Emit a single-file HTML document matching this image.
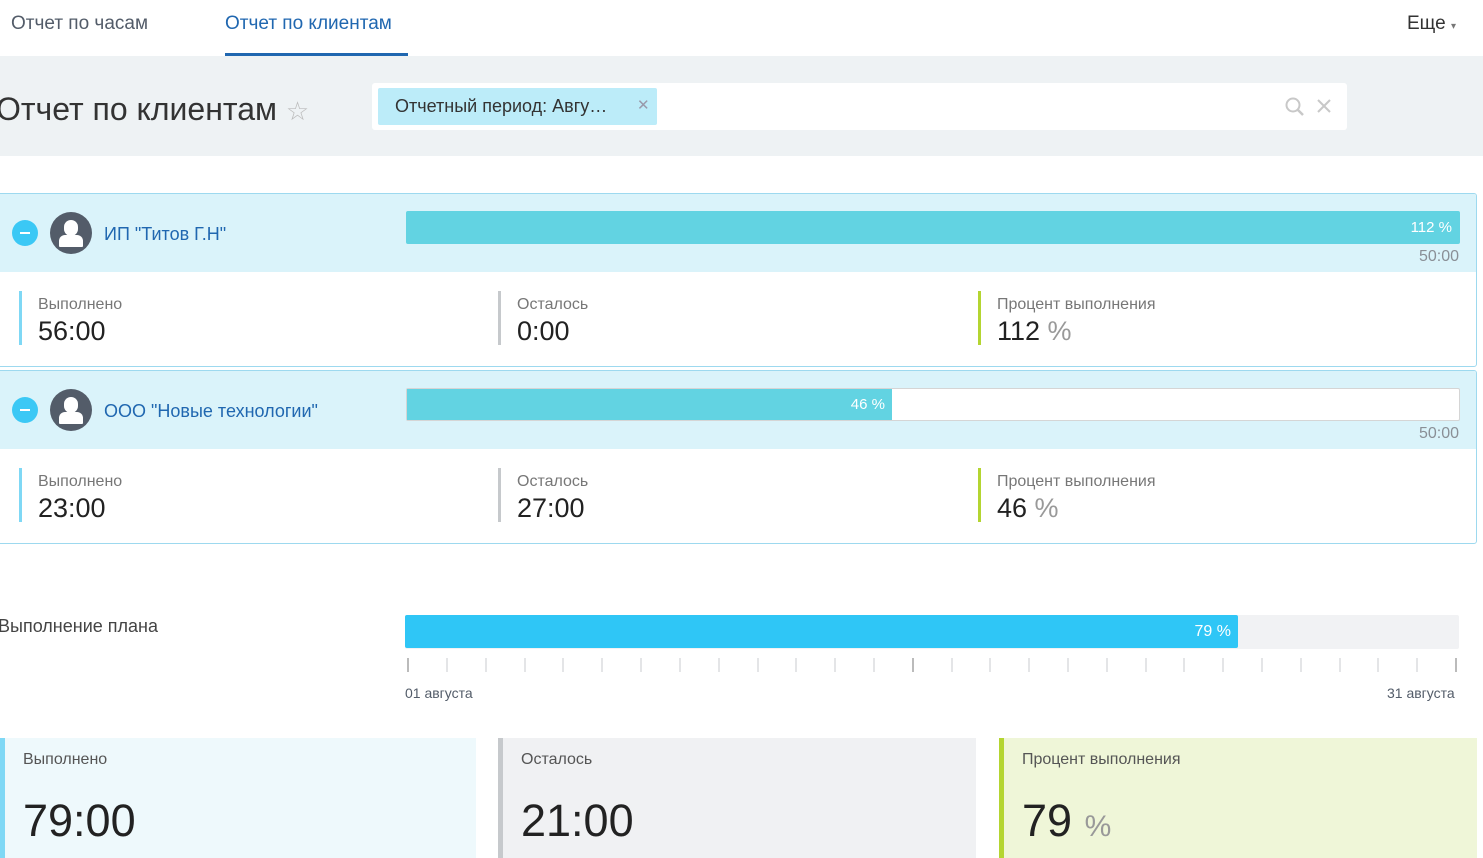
<!DOCTYPE html>
<html><head><meta charset="utf-8"><style>
*{margin:0;padding:0;box-sizing:border-box}
body{width:1483px;height:856px;overflow:hidden;background:#fff;font-family:"Liberation Sans",sans-serif;position:relative;color:#333}
.a{position:absolute;white-space:nowrap}
.tab{font-size:19px;top:13px;color:#535c69}
.blk{position:absolute;left:-3px;width:1480px;height:174px;border:1px solid #9dd9ef;border-radius:3px;background:#fff;overflow:hidden}
.hd{position:absolute;left:0;top:0;right:0;height:78px;background:#daf3fa}
.minus{position:absolute;left:14px;top:26px;width:26px;height:26px;border-radius:50%;background:#3bc8f5}
.minus:after{content:"";position:absolute;left:8px;top:12px;width:10px;height:2px;background:#fff}
.av{position:absolute;left:52px;top:18px;width:42px;height:42px;border-radius:50%;background:#535c69;overflow:hidden}
.av .h{position:absolute;left:14px;top:8px;width:14px;height:16px;border-radius:7px;background:#fff}
.av .b{position:absolute;left:9px;top:23px;width:24px;height:12px;border-radius:6px 6px 1px 1px;background:#fff}
.nm{position:absolute;left:106px;top:30px;font-size:18px;color:#2067b0}
.bar{position:absolute;left:408px;top:17px;width:1054px;height:33px;border:1px solid #d5d5d5;background:#fff;border-radius:2px}
.fill{position:absolute;left:0;top:0;bottom:0;background:#62d3e2;color:#fff;font-size:15px;text-align:right;padding-right:7px;line-height:32px}
.max{position:absolute;right:17px;top:54px;font-size:16px;color:#8a8f96}
.st{position:absolute;top:97px;height:54px;padding-left:16px;border-left:3px solid}
.st .l{font-size:16px;color:#777;margin-top:5px}
.st .v{font-size:27px;color:#222;margin-top:2px}
.pc{color:#999}
.card{position:absolute;top:738px;height:120px;border-left:5px solid;padding-left:18px}
.card .l{font-size:16px;color:#555;margin-top:13px}
.card .v{font-size:45px;color:#222;margin-top:26px}
</style></head><body>
<div class="a tab" style="left:11px">Отчет по часам</div>
<div class="a tab" style="left:225px;color:#2067b0">Отчет по клиентам</div>
<div class="a" style="left:225px;top:53px;width:183px;height:3px;background:#2067b0"></div>
<div class="a tab" style="left:1407px;color:#333">Еще <span style="font-size:10px;color:#777">▾</span></div>
<div class="a" style="left:0;top:56px;width:1483px;height:100px;background:#eef2f4"></div>
<div class="a" style="left:-4px;top:91px;font-size:32px;color:#333;font-weight:300">Отчет по клиентам <span style="color:#bbb;font-size:26px">☆</span></div>
<div class="a" style="left:372px;top:83px;width:975px;height:47px;background:#fff;border-radius:3px"></div>
<div class="a" style="left:378px;top:88px;width:279px;height:37px;background:#bcecf9;border-radius:2px;font-size:18px;color:#333;padding:8px 0 0 17px">Отчетный период: Авгу…<span style="position:absolute;left:259px;top:8px;color:#99a;font-size:15px">✕</span></div>
<svg class="a" style="left:1284px;top:96px" width="50" height="22"><circle cx="9" cy="9" r="6.5" fill="none" stroke="#c8c8c8" stroke-width="2"/><line x1="14" y1="14" x2="19" y2="19" stroke="#c8c8c8" stroke-width="2.5"/><line x1="34" y1="4" x2="46" y2="16" stroke="#c8c8c8" stroke-width="2"/><line x1="46" y1="4" x2="34" y2="16" stroke="#c8c8c8" stroke-width="2"/></svg>

<div class="blk" style="top:193px"><div class="hd"></div><div class="minus"></div><div class="av"><div class="h"></div><div class="b"></div></div>
<div class="nm">ИП "Титов Г.Н"</div>
<div class="bar" style="border-color:#62d3e2"><div class="fill" style="width:100%">112 %</div></div>
<div class="max">50:00</div>
<div class="st" style="left:21px;border-color:#7fd8f5"><div class="l">Выполнено</div><div class="v">56:00</div></div>
<div class="st" style="left:500px;border-color:#c6c9cc"><div class="l">Осталось</div><div class="v">0:00</div></div>
<div class="st" style="left:980px;border-color:#b4d531"><div class="l">Процент выполнения</div><div class="v">112 <span class="pc">%</span></div></div>
</div>

<div class="blk" style="top:370px"><div class="hd"></div><div class="minus"></div><div class="av"><div class="h"></div><div class="b"></div></div>
<div class="nm">ООО "Новые технологии"</div>
<div class="bar"><div class="fill" style="width:485px">46 %</div></div>
<div class="max">50:00</div>
<div class="st" style="left:21px;border-color:#7fd8f5"><div class="l">Выполнено</div><div class="v">23:00</div></div>
<div class="st" style="left:500px;border-color:#c6c9cc"><div class="l">Осталось</div><div class="v">27:00</div></div>
<div class="st" style="left:980px;border-color:#b4d531"><div class="l">Процент выполнения</div><div class="v">46 <span class="pc">%</span></div></div>
</div>

<div class="a" style="left:-2px;top:616px;font-size:18px;color:#444">Выполнение плана</div>
<div class="a" style="left:405px;top:615px;width:1054px;height:34px;background:#f1f2f4;border-radius:2px"></div>
<div class="a" style="left:405px;top:615px;width:833px;height:33px;background:#2fc6f6;border-radius:2px;color:#fff;font-size:16px;text-align:right;padding-right:7px;line-height:33px">79 %</div>
<svg class="a" style="left:400px;top:656px" width="1070" height="18">
<g stroke="#e4e5e7" stroke-width="2">
<line x1="8" y1="2" x2="8" y2="16" stroke="#bbb"/><line x1="47" y1="2" x2="47" y2="16"/><line x1="86" y1="2" x2="86" y2="16"/><line x1="125" y1="2" x2="125" y2="16"/><line x1="163" y1="2" x2="163" y2="16"/><line x1="202" y1="2" x2="202" y2="16"/><line x1="241" y1="2" x2="241" y2="16"/><line x1="280" y1="2" x2="280" y2="16"/><line x1="319" y1="2" x2="319" y2="16"/><line x1="358" y1="2" x2="358" y2="16"/><line x1="396" y1="2" x2="396" y2="16"/><line x1="435" y1="2" x2="435" y2="16"/><line x1="474" y1="2" x2="474" y2="16"/><line x1="513" y1="2" x2="513" y2="16" stroke="#bbb"/><line x1="552" y1="2" x2="552" y2="16"/><line x1="590" y1="2" x2="590" y2="16"/><line x1="629" y1="2" x2="629" y2="16"/><line x1="668" y1="2" x2="668" y2="16"/><line x1="707" y1="2" x2="707" y2="16"/><line x1="746" y1="2" x2="746" y2="16"/><line x1="784" y1="2" x2="784" y2="16"/><line x1="823" y1="2" x2="823" y2="16"/><line x1="862" y1="2" x2="862" y2="16"/><line x1="901" y1="2" x2="901" y2="16"/><line x1="940" y1="2" x2="940" y2="16"/><line x1="978" y1="2" x2="978" y2="16"/><line x1="1017" y1="2" x2="1017" y2="16"/><line x1="1056" y1="2" x2="1056" y2="16" stroke="#bbb"/>
</g></svg>
<div class="a" style="left:405px;top:685px;font-size:14px;color:#535c69">01 августа</div>
<div class="a" style="left:1387px;top:685px;font-size:14px;color:#535c69">31 августа</div>

<div class="card" style="left:0;width:476px;background:#eef9fc;border-color:#7fd8f5"><div class="l">Выполнено</div><div class="v">79:00</div></div>
<div class="card" style="left:498px;width:478px;background:#f0f1f3;border-color:#c6c9cc"><div class="l">Осталось</div><div class="v">21:00</div></div>
<div class="card" style="left:999px;width:478px;background:#eff6d8;border-color:#b4d531"><div class="l">Процент выполнения</div><div class="v">79 <span class="pc" style="font-size:30px">%</span></div></div>
</body></html>
